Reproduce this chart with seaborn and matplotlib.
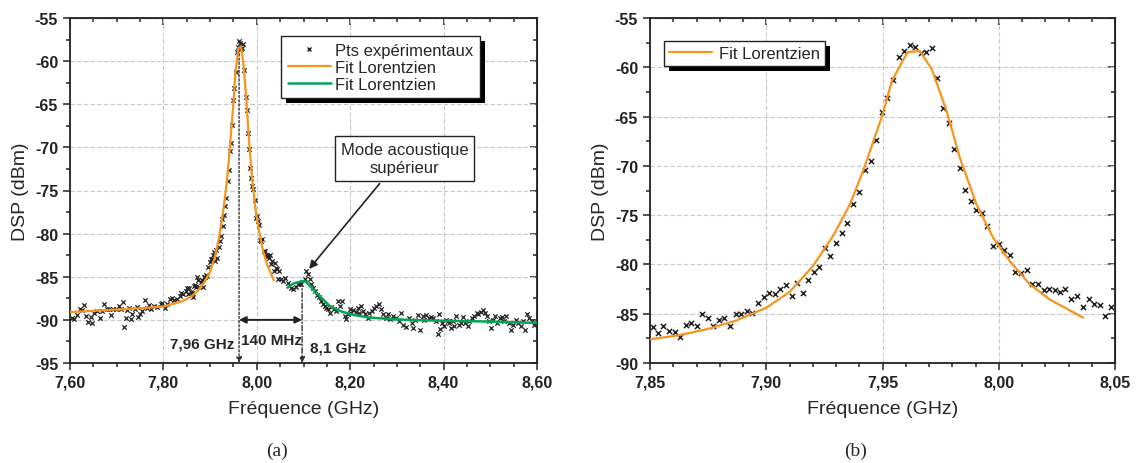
import numpy as np
import pandas as pd
import seaborn as sns
import matplotlib.pyplot as plt
from matplotlib.ticker import MultipleLocator, FuncFormatter
from matplotlib.patches import Rectangle
from matplotlib.lines import Line2D
from matplotlib.transforms import IdentityTransform

# experimental points, (a) left part 7.60 - 7.85 GHz
freq_left = [7.6036, 7.6093, 7.6149, 7.6221, 7.6256, 7.6292, 7.6342, 7.6391, 7.6448, 7.6470,
             7.6520, 7.6577, 7.6633, 7.6676, 7.6733, 7.6790, 7.6840, 7.6875, 7.6911, 7.6982,
             7.7039, 7.7089, 7.7132, 7.7160, 7.7196, 7.7231, 7.7267, 7.7302, 7.7338, 7.7388,
             7.7431, 7.7466, 7.7502, 7.7552, 7.7601, 7.7644, 7.7694, 7.7744, 7.7801, 7.7872,
             7.7943, 7.7979, 7.8028, 7.8085, 7.8142, 7.8192, 7.8228, 7.8299, 7.8356, 7.8384,
             7.8427, 7.8477]
dsp_left = [-89.73, -89.92, -89.42, -88.76, -88.88, -88.26, -89.54, -90.19, -89.65, -90.31,
            -89.15, -88.96, -89.73, -88.96, -88.11, -88.76, -88.69, -89.42, -88.76, -88.76,
            -88.38, -88.76, -87.88, -90.81, -89.81, -88.88, -88.57, -89.92, -89.34, -88.76,
            -88.49, -89.65, -89.27, -88.96, -87.72, -88.57, -88.26, -88.76, -88.38, -88.49,
            -88.11, -87.99, -88.57, -88.19, -87.61, -87.41, -87.72, -87.61, -87.22, -86.83,
            -87.03, -86.64]

# experimental points 7.85 - 8.05 GHz (shown in (a) and zoomed in (b))
freq_mid = [7.8511, 7.8533, 7.8557, 7.8581, 7.8606, 7.8630, 7.8654, 7.8677, 7.8701, 7.8724,
            7.8749, 7.8773, 7.8797, 7.8820, 7.8844, 7.8869, 7.8893, 7.8916, 7.8940, 7.8964,
            7.8989, 7.9013, 7.9036, 7.9060, 7.9084, 7.9109, 7.9131, 7.9156, 7.9180, 7.9204,
            7.9229, 7.9251, 7.9276, 7.9300, 7.9324, 7.9349, 7.9373, 7.9400, 7.9424, 7.9449,
            7.9473, 7.9497, 7.9521, 7.9544, 7.9569, 7.9593, 7.9617, 7.9641, 7.9664, 7.9689,
            7.9713, 7.9736, 7.9761, 7.9784, 7.9809, 7.9833, 7.9856, 7.9881, 7.9904, 7.9927,
            7.9951, 7.9976, 8.0000, 8.0024, 8.0049, 8.0071, 8.0096, 8.0120, 8.0144, 8.0169,
            8.0193, 8.0216, 8.0240, 8.0263, 8.0287, 8.0311, 8.0336, 8.0363, 8.0388, 8.0411,
            8.0434, 8.0459, 8.0483]
dsp_mid = [-86.30, -86.96, -86.25, -86.80, -86.90, -87.40, -86.10, -85.95, -86.20, -85.07,
           -85.40, -86.20, -85.60, -85.40, -86.20, -85.00, -85.00, -84.76, -84.97, -83.90,
           -83.30, -82.90, -82.97, -82.50, -82.10, -83.20, -81.90, -82.87, -81.60, -80.80,
           -80.30, -78.30, -79.10, -77.80, -76.80, -75.84, -73.90, -72.67, -70.40, -69.46,
           -67.36, -64.56, -63.10, -61.25, -58.95, -58.34, -57.70, -57.94, -58.55, -58.48,
           -58.00, -61.05, -64.16, -65.70, -68.34, -70.20, -72.43, -73.55, -74.50, -74.80,
           -76.10, -78.14, -77.97, -78.58, -79.00, -80.78, -80.90, -80.57, -82.00, -82.00,
           -82.60, -82.50, -82.60, -82.80, -82.50, -83.50, -83.20, -84.36, -83.46, -84.00,
           -84.10, -85.27, -84.30]

# experimental points, (a) right part 8.05 - 8.60 GHz
freq_right = [8.0527, 8.0562, 8.0598, 8.0669, 8.0740, 8.0776, 8.0833, 8.0883, 8.0918, 8.0954,
              8.1025, 8.1060, 8.1096, 8.1132, 8.1167, 8.1203, 8.1238, 8.1288, 8.1331, 8.1381,
              8.1416, 8.1452, 8.1488, 8.1523, 8.1559, 8.1594, 8.1644, 8.1687, 8.1737, 8.1772,
              8.1829, 8.1879, 8.1915, 8.1950, 8.1986, 8.2021, 8.2057, 8.2114, 8.2164, 8.2199,
              8.2235, 8.2270, 8.2327, 8.2377, 8.2413, 8.2470, 8.2520, 8.2555, 8.2612, 8.2662,
              8.2712, 8.2769, 8.2804, 8.2854, 8.2911, 8.2982, 8.3039, 8.3089, 8.3139, 8.3196,
              8.3253, 8.3324, 8.3352, 8.3395, 8.3445, 8.3495, 8.3552, 8.3587, 8.3623, 8.3680,
              8.3730, 8.3779, 8.3836, 8.3872, 8.3893, 8.3922, 8.3964, 8.4014, 8.4050, 8.4085,
              8.4121, 8.4157, 8.4192, 8.4228, 8.4263, 8.4320, 8.4370, 8.4406, 8.4463, 8.4512,
              8.4548, 8.4605, 8.4655, 8.4705, 8.4747, 8.4797, 8.4847, 8.4890, 8.4940, 8.4975,
              8.5011, 8.5060, 8.5103, 8.5153, 8.5203, 8.5260, 8.5295, 8.5345, 8.5402, 8.5438,
              8.5488, 8.5544, 8.5601, 8.5651, 8.5701, 8.5744, 8.5794, 8.5829, 8.5886, 8.5936,
              8.5986]
dsp_right = [-85.31, -85.50, -85.19, -85.69, -86.27, -86.46, -86.19, -85.88, -85.69, -85.88,
             -85.31, -84.35, -84.73, -85.31, -85.88, -86.27, -86.65, -87.12, -87.35, -87.81,
             -88.19, -88.38, -88.58, -88.77, -89.15, -88.50, -88.77, -88.96, -87.81, -88.38,
             -87.81, -89.54, -89.92, -89.35, -88.77, -89.15, -88.88, -89.04, -88.65, -89.15,
             -88.38, -88.96, -89.35, -89.73, -89.15, -88.96, -88.58, -88.38, -88.19, -88.77,
             -89.35, -89.73, -89.27, -89.92, -89.54, -89.73, -90.12, -89.15, -90.58, -90.88,
             -89.73, -90.35, -90.93, -89.96, -89.38, -91.12, -89.57, -89.96, -89.46, -89.77,
             -89.69, -89.84, -90.16, -91.63, -89.30, -91.01, -90.35, -90.74, -89.96, -90.16,
             -90.35, -90.93, -90.16, -90.74, -89.57, -90.54, -90.35, -89.69, -90.35, -90.74,
             -90.08, -89.77, -89.57, -89.19, -89.30, -89.07, -88.91, -89.19, -89.57, -90.08,
             -90.93, -89.96, -89.57, -90.35, -89.77, -89.69, -90.08, -89.57, -90.35, -91.12,
             -90.54, -89.96, -90.35, -90.74, -90.16, -91.12, -89.30, -89.77, -90.16, -90.54,
             -90.35]

# Lorentzian fit of the main peak
fit1_freq_left = [7.600, 7.650, 7.700, 7.750, 7.800, 7.837]
fit1_dsp_left = [-89.10, -88.95, -88.80, -88.65, -88.45, -87.90]
fit1_freq = [7.850, 7.862, 7.874, 7.887, 7.900, 7.910, 7.920, 7.929, 7.936, 7.942, 7.950,
             7.954, 7.9607, 7.9661, 7.9713, 7.9776, 7.9833, 7.9904, 7.9976, 8.0047, 8.0133,
             8.0219, 8.0363]
fit1_dsp = [-87.60, -87.20, -86.60, -85.70, -84.40, -82.80, -80.20, -77.00, -73.90, -70.30,
            -64.80, -61.40, -58.48, -58.34, -60.24, -64.46, -69.20, -73.90, -77.30, -79.66,
            -82.00, -83.55, -85.40]

# Lorentzian fit of the upper acoustic mode
fit2_freq = [8.0655, 8.0776, 8.0975, 8.106, 8.120, 8.138, 8.156, 8.177, 8.2057, 8.241,
             8.291, 8.350, 8.400, 8.500, 8.600]
fit2_dsp = [-86.27, -85.80, -85.50, -85.60, -86.46, -87.42, -88.38, -88.96, -89.42, -89.73,
            -89.92, -90.05, -90.10, -90.20, -90.35]

ORANGE = '#F7941D'
GREEN = '#00A650'
PTS = '#222222'

sns.set_style('ticks')
plt.rcParams['font.family'] = ['Liberation Sans', 'DejaVu Sans']
plt.rcParams['axes.unicode_minus'] = False

df_a = pd.DataFrame({'f': freq_left + freq_mid + freq_right,
                     'dsp': dsp_left + dsp_mid + dsp_right})
df_b = pd.DataFrame({'f': freq_mid, 'dsp': dsp_mid})

fig = plt.figure(figsize=(11.36, 4.64), dpi=100)
ax_a = fig.add_axes([70 / 1136, 100 / 464, 467 / 1136, 345 / 464])
ax_b = fig.add_axes([650 / 1136, 100 / 464, 465 / 1136, 345 / 464])

comma2 = FuncFormatter(lambda v, p: f"{v:.2f}".replace('.', ','))
int0 = FuncFormatter(lambda v, p: f"{v:.0f}")


def style_axes(ax, xlim, ylim, xmaj, xmin):
    ax.set_xlim(*xlim)
    ax.set_ylim(*ylim)
    ax.xaxis.set_major_locator(MultipleLocator(xmaj))
    ax.xaxis.set_minor_locator(MultipleLocator(xmin))
    ax.yaxis.set_major_locator(MultipleLocator(5))
    ax.yaxis.set_minor_locator(MultipleLocator(2.5))
    ax.xaxis.set_major_formatter(comma2)
    ax.yaxis.set_major_formatter(int0)
    ax.grid(True, which='major', color='#c8c8c8', ls=(0, (4, 2)), lw=0.8)
    ax.set_axisbelow(True)
    for s in ax.spines.values():
        s.set_visible(True)
        s.set_linewidth(1.3)
        s.set_color('#222222')
    ax.tick_params(which='both', direction='out', width=1.1, colors='#222222')
    ax.tick_params(which='major', length=5)
    ax.tick_params(which='minor', length=3)
    for lab in ax.get_xticklabels() + ax.get_yticklabels():
        lab.set_fontweight('bold')
        lab.set_fontsize(11.5)
    # mirrored ticks pointing inward on top and right
    top = ax.secondary_xaxis('top')
    top.xaxis.set_major_locator(MultipleLocator(xmaj))
    top.xaxis.set_minor_locator(MultipleLocator(xmin))
    top.tick_params(which='both', direction='in', labeltop=False, width=1.1)
    top.tick_params(which='major', length=5)
    top.tick_params(which='minor', length=3)
    right = ax.secondary_yaxis('right')
    right.yaxis.set_major_locator(MultipleLocator(5))
    right.yaxis.set_minor_locator(MultipleLocator(2.5))
    right.tick_params(which='both', direction='in', labelright=False, width=1.1)
    right.tick_params(which='major', length=5)
    right.tick_params(which='minor', length=3)
    ax.set_xlabel('Fréquence (GHz)', fontsize=14, labelpad=7)
    ax.set_ylabel('DSP (dBm)', fontsize=14, labelpad=4)


def add_shadow(ax, leg, off=5):
    fig.canvas.draw()
    bb = leg.get_window_extent()
    ax.add_patch(Rectangle((bb.x0 + off, bb.y0 - off), bb.width, bb.height,
                           transform=IdentityTransform(), facecolor='black',
                           edgecolor='none', zorder=4.9, clip_on=False))


# ---- panel (a)
sns.scatterplot(data=df_a, x='f', y='dsp', ax=ax_a, marker='x', s=10, linewidth=0.9,
                color=PTS, zorder=3, legend=False)
sns.lineplot(x=fit1_freq_left + fit1_freq, y=fit1_dsp_left + fit1_dsp, ax=ax_a,
             color=ORANGE, lw=1.6, sort=False, estimator=None, zorder=4, legend=False)
sns.lineplot(x=fit2_freq, y=fit2_dsp, ax=ax_a, color=GREEN, lw=1.8, sort=False,
             estimator=None, zorder=4, legend=False)
style_axes(ax_a, (7.6, 8.6), (-95, -55), 0.2, 0.05)

handles_a = [Line2D([], [], ls='none', marker='x', ms=3.5, mew=1, color=PTS),
             Line2D([], [], color=ORANGE, lw=1.6),
             Line2D([], [], color=GREEN, lw=1.8)]
leg_a = ax_a.legend(handles_a, ['Pts expérimentaux', 'Fit Lorentzien', 'Fit Lorentzien'],
                    loc='upper left', bbox_to_anchor=(0.452, 0.948), borderaxespad=0,
                    fancybox=False, framealpha=1, edgecolor='#222222', fontsize=12,
                    handlelength=2.6, handletextpad=0.25, labelspacing=0.12, borderpad=0.4)
leg_a.get_frame().set_linewidth(1.0)

# markers of the two peaks
ax_a.annotate('', xy=(7.962, -95), xytext=(7.962, -58.2),
              arrowprops=dict(arrowstyle='-|>', ls=(0, (1.5, 1.5)), color='#333333', lw=1,
                              mutation_scale=8, shrinkA=0, shrinkB=0))
ax_a.annotate('', xy=(8.097, -95), xytext=(8.097, -85.5),
              arrowprops=dict(arrowstyle='-|>', ls=(0, (4, 1.5, 1, 1.5)), color='#333333', lw=1,
                              mutation_scale=8, shrinkA=0, shrinkB=0))
ax_a.annotate('', xy=(7.962, -90), xytext=(8.097, -90),
              arrowprops=dict(arrowstyle='<|-|>', color='#222222', lw=1.4, mutation_scale=10,
                              shrinkA=0, shrinkB=0))
ax_a.text(7.884, -92.7, '7,96 GHz', fontsize=11, fontweight='bold', ha='center', va='center')
ax_a.text(8.031, -92.3, '140 MHz', fontsize=11, fontweight='bold', ha='center', va='center')
ax_a.text(8.173, -93.2, '8,1 GHz', fontsize=11, fontweight='bold', ha='center', va='center')
ax_a.annotate('', xy=(8.112, -84.1), xytext=(8.263, -74.2),
              arrowprops=dict(arrowstyle='-|>', color='#222222', lw=1.2, mutation_scale=12,
                              shrinkA=0, shrinkB=0))
ax_a.text(8.316, -71.3, 'Mode acoustique\nsupérieur', fontsize=12, ha='center', va='center',
          multialignment='center', linespacing=1.25,
          bbox=dict(boxstyle='square,pad=0.35', facecolor='white', edgecolor='#222222', lw=1))

# ---- panel (b)
sns.scatterplot(data=df_b, x='f', y='dsp', ax=ax_b, marker='x', s=14, linewidth=1.1,
                color=PTS, zorder=3, legend=False)
sns.lineplot(x=fit1_freq, y=fit1_dsp, ax=ax_b, color=ORANGE, lw=1.6, sort=False,
             estimator=None, zorder=4, legend=False)
style_axes(ax_b, (7.85, 8.05), (-90, -55), 0.05, 0.01)
leg_b = ax_b.legend([Line2D([], [], color=ORANGE, lw=1.6)], ['Fit Lorentzien'],
                    loc='upper left', bbox_to_anchor=(0.03, 0.933), borderaxespad=0,
                    fancybox=False, framealpha=1, edgecolor='#222222', fontsize=12,
                    handlelength=2.6, handletextpad=0.4, borderpad=0.3)
leg_b.get_frame().set_linewidth(1.0)

add_shadow(ax_a, leg_a)
add_shadow(ax_b, leg_b)

fig.text(277 / 1136, 13 / 464, '(a)', family='Liberation Serif', fontsize=14,
         ha='center', va='center')
fig.text(856 / 1136, 13 / 464, '(b)', family='Liberation Serif', fontsize=14,
         ha='center', va='center')

fig.savefig('out.png', dpi=100)
